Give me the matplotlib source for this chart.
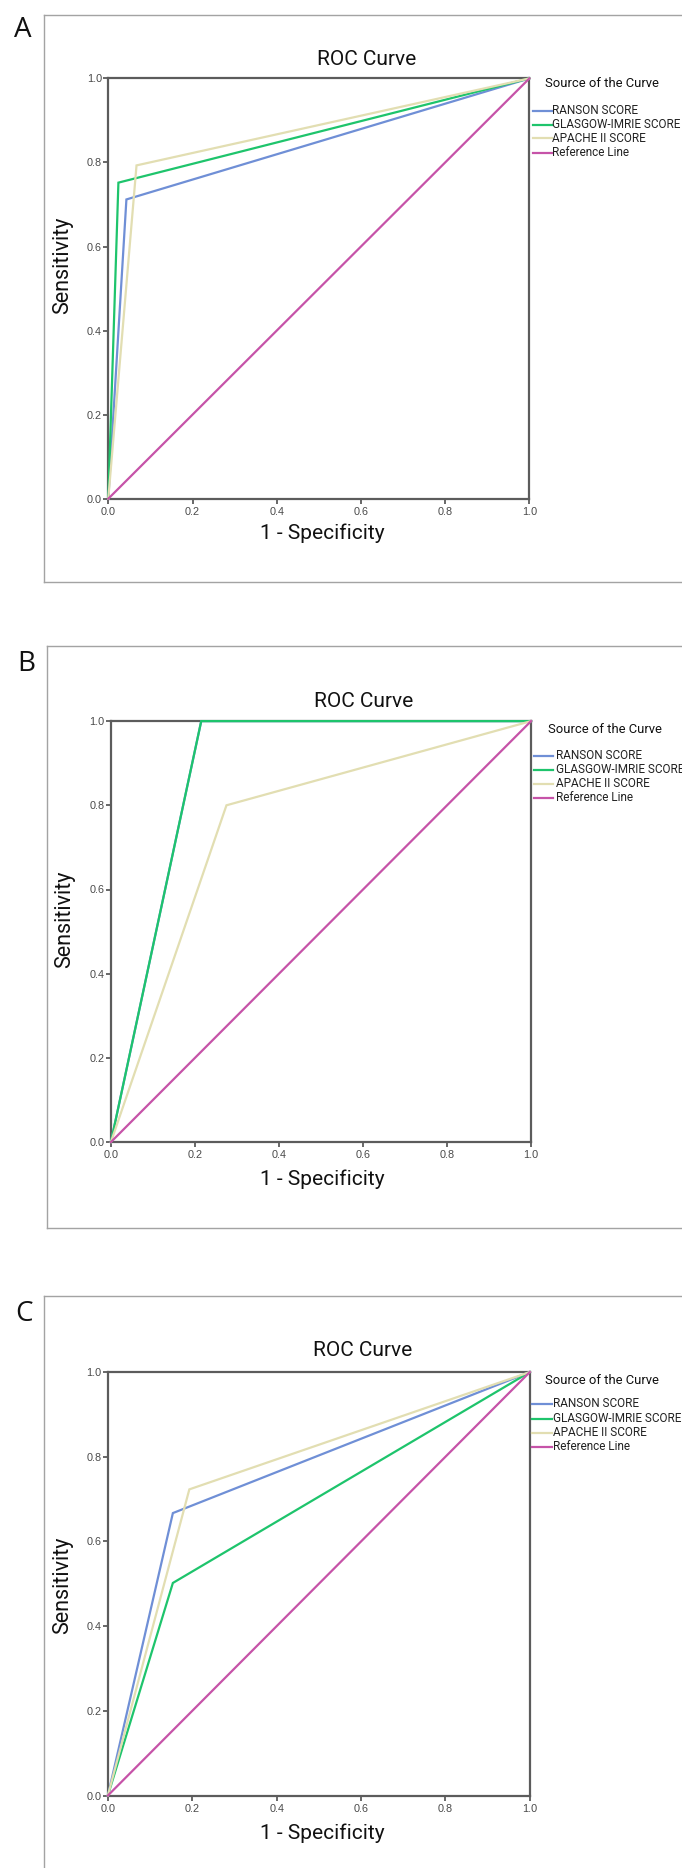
import matplotlib
matplotlib.use("Agg")
import matplotlib.pyplot as plt
from matplotlib.lines import Line2D

# ---------------- data ----------------
series_names = ["RANSON SCORE", "GLASGOW-IMRIE SCORE", "APACHE II SCORE", "Reference Line"]
series_colors = ["#6f8fd6", "#1ec46c", "#e2deb2", "#c653a8"]

# Panel A  (1 - specificity, sensitivity)
a_ranson_x = [0.0, 0.043, 1.0]
a_ranson_y = [0.0, 0.712, 1.0]
a_glasgow_x = [0.0, 0.024, 1.0]
a_glasgow_y = [0.0, 0.752, 1.0]
a_apache_x = [0.0, 0.067, 1.0]
a_apache_y = [0.0, 0.793, 1.0]

# Panel B
b_ranson_x = [0.0, 0.215, 1.0]
b_ranson_y = [0.0, 1.0, 1.0]
b_glasgow_x = [0.0, 0.215, 1.0]
b_glasgow_y = [0.0, 1.0, 1.0]
b_apache_x = [0.0, 0.275, 1.0]
b_apache_y = [0.0, 0.800, 1.0]

# Panel C
c_ranson_x = [0.0, 0.154, 1.0]
c_ranson_y = [0.0, 0.667, 1.0]
c_glasgow_x = [0.0, 0.154, 1.0]
c_glasgow_y = [0.0, 0.502, 1.0]
c_apache_x = [0.0, 0.193, 1.0]
c_apache_y = [0.0, 0.723, 1.0]

ref_x = [0.0, 1.0]
ref_y = [0.0, 1.0]

tick_values = [0.0, 0.2, 0.4, 0.6, 0.8, 1.0]
tick_labels = ["0.0", "0.2", "0.4", "0.6", "0.8", "1.0"]

panel_letters = ["A", "B", "C"]
title_text = "ROC Curve"
xlabel_text = "1 - Specificity"
ylabel_text = "Sensitivity"
legend_title = "Source of the Curve"

# ---------------- layout (pixels) ----------------
W, H = 682, 1868
fig = plt.figure(figsize=(W / 100, H / 100), dpi=100)
fig.patch.set_facecolor("white")


def fx(x):
    return x / W


def fy(y):
    return 1 - y / H


layouts = [
    dict(ax=(108.3, 78.4, 529.4, 498.7), frame=(44, 15.3, 700, 582),
         letter=(22.6, 29.8), title=(366.7, 59.3), xlabel=(322, 533.5), ylabel=(63, 265.6),
         leg_title=(544.6, 83.4), leg_y=[110.9, 124.7, 138.4, 152.6],
         leg_line=(532.8, 551.5), leg_text=552.4, frame_bottom=True),
    dict(ax=(110.9, 721.1, 531.1, 1142.1), frame=(46.5, 645.7, 700, 1228),
         letter=(26, 663.7), title=(363.2, 701.2), xlabel=(322.3, 1179.2), ylabel=(65, 919),
         leg_title=(548, 729.5), leg_y=[755.5, 769.6, 783.8, 797.6],
         leg_line=(534.1, 553.3), leg_text=555.9, frame_bottom=True),
    dict(ax=(107.9, 1372.1, 529.8, 1795.5), frame=(44, 1295.7, 700, 1900),
         letter=(24, 1314.3), title=(363, 1350), xlabel=(322.3, 1833), ylabel=(63, 1585.7),
         leg_title=(545, 1380.6), leg_y=[1403.9, 1418.6, 1432.9, 1446.9],
         leg_line=(531.5, 551.5), leg_text=553.3, frame_bottom=False),
]

panel_data = [
    [(a_ranson_x, a_ranson_y), (a_glasgow_x, a_glasgow_y), (a_apache_x, a_apache_y), (ref_x, ref_y)],
    [(b_ranson_x, b_ranson_y), (b_glasgow_x, b_glasgow_y), (b_apache_x, b_apache_y), (ref_x, ref_y)],
    [(c_ranson_x, c_ranson_y), (c_glasgow_x, c_glasgow_y), (c_apache_x, c_apache_y), (ref_x, ref_y)],
]

frame_color = "#a3a3a3"
spine_color = "#5c5c5c"
tick_color = "#4a4a4a"

for letter, lay, data in zip(panel_letters, layouts, panel_data):
    # outer frame (left, top, bottom lines)
    l, t, r, b = lay["frame"]
    fig.add_artist(Line2D([fx(l), fx(l)], [fy(t), fy(b)], color=frame_color, lw=1.0,
                          transform=fig.transFigure))
    fig.add_artist(Line2D([fx(l), fx(r)], [fy(t), fy(t)], color=frame_color, lw=1.0,
                          transform=fig.transFigure))
    if lay["frame_bottom"]:
        fig.add_artist(Line2D([fx(l), fx(r)], [fy(b), fy(b)], color=frame_color, lw=1.0,
                              transform=fig.transFigure))

    # panel letter
    fig.text(fx(lay["letter"][0]), fy(lay["letter"][1]), letter, fontsize=20,
             family=["Open Sans", "DejaVu Sans"], ha="center", va="center", color="#111111")

    # axes
    x0, y0, x1, y1 = lay["ax"]
    ax = fig.add_axes([fx(x0), fy(y1), fx(x1 - x0), (y1 - y0) / H])
    for (xs, ys), name, col in zip(data, series_names, series_colors):
        ax.plot(xs, ys, color=col, lw=1.6, label=name, solid_joinstyle="miter",
                zorder=3, clip_on=False)
    ax.set_xlim(0, 1)
    ax.set_ylim(0, 1)
    ax.set_xticks(tick_values)
    ax.set_xticklabels(tick_labels)
    ax.set_yticks(tick_values)
    ax.set_yticklabels(tick_labels)
    for sp in ax.spines.values():
        sp.set_color(spine_color)
        sp.set_linewidth(1.6)
        sp.set_zorder(2.5)
    ax.tick_params(axis="both", direction="out", length=3.5, width=1.3, color=spine_color,
                   labelsize=7.8, labelcolor=tick_color)
    ax.tick_params(axis="x", pad=2.5)
    ax.tick_params(axis="y", pad=1.0)
    for lab in ax.get_xticklabels() + ax.get_yticklabels():
        lab.set_family(["Liberation Sans", "DejaVu Sans"])

    # title and axis labels
    fig.text(fx(lay["title"][0]), fy(lay["title"][1]), title_text, fontsize=15,
             family=["Roboto", "DejaVu Sans"], ha="center", va="center", color="#111111")
    fig.text(fx(lay["xlabel"][0]), fy(lay["xlabel"][1]), xlabel_text, fontsize=15,
             family=["Roboto", "DejaVu Sans"], ha="center", va="center", color="#111111")
    fig.text(fx(lay["ylabel"][0]), fy(lay["ylabel"][1]), ylabel_text, fontsize=15.5,
             family=["Roboto", "DejaVu Sans"], ha="center", va="center", rotation=90,
             color="#111111")

    # legend
    fig.text(fx(lay["leg_title"][0]), fy(lay["leg_title"][1]), legend_title, fontsize=9.4,
             family=["Roboto", "DejaVu Sans"], ha="left", va="center", color="#111111")
    lx0, lx1 = lay["leg_line"]
    for yy, name, col in zip(lay["leg_y"], series_names, series_colors):
        fig.add_artist(Line2D([fx(lx0), fx(lx1)], [fy(yy), fy(yy)], color=col, lw=1.6,
                              transform=fig.transFigure))
        fig.text(fx(lay["leg_text"]), fy(yy), name, fontsize=8.5,
                 family=["Roboto", "DejaVu Sans"], ha="left", va="center", color="#222222")

fig.savefig("out.png", dpi=100, facecolor="white")
